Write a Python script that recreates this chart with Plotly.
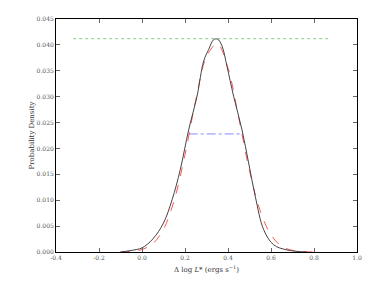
import plotly.graph_objects as go

# Measured distribution (black solid)
obs_x = [-0.10, -0.05, 0.0, 0.05, 0.10, 0.14, 0.178, 0.217, 0.256, 0.287, 0.31, 0.333,
         0.352, 0.372, 0.395, 0.426, 0.465, 0.496, 0.527, 0.566, 0.612, 0.674, 0.767]
obs_y = [0.0, 0.0003, 0.0008, 0.0025, 0.0056, 0.0101, 0.0159, 0.0236, 0.0301, 0.0369, 0.0391, 0.0410,
         0.0411, 0.0398, 0.0359, 0.0301, 0.0236, 0.0172, 0.0107, 0.0043, 0.0014, 0.0004, 0.0]

# Gaussian fit (red dashed)
fit_x = [-0.10, -0.05, 0.0, 0.05, 0.10, 0.15, 0.20, 0.25, 0.30, 0.35, 0.40, 0.45,
         0.50, 0.55, 0.60, 0.65, 0.70, 0.75, 0.80]
fit_y = [0.000025, 0.00012, 0.00048, 0.0016, 0.0044, 0.0100, 0.0188, 0.0293, 0.0377, 0.0402, 0.0355, 0.0259,
         0.0157, 0.0079, 0.0033, 0.0011, 0.00032, 0.000074, 0.000015]

# Peak level (green dotted)
peak_x = [-0.32, 0.87]
peak_y = [0.0412, 0.0412]

# Half-width marker (blue dash-dot)
half_x = [0.217, 0.457]
half_y = [0.0228, 0.0228]

x_ticks = [-0.4, -0.2, 0.0, 0.2, 0.4, 0.6, 0.8, 1.0]
y_ticks = [0.000, 0.005, 0.010, 0.015, 0.020, 0.025, 0.030, 0.035, 0.040, 0.045]

fig = go.Figure()
fig.add_trace(go.Scatter(x=peak_x, y=peak_y, mode="lines",
                         line=dict(color="#88cc88", width=1, dash="dot")))
fig.add_trace(go.Scatter(x=half_x, y=half_y, mode="lines",
                         line=dict(color="#8888ff", width=1, dash="dashdot")))
fig.add_trace(go.Scatter(x=fit_x, y=fit_y, mode="lines", line_shape="spline",
                         line=dict(color="#ff5555", width=1, dash="dash")))
fig.add_trace(go.Scatter(x=obs_x, y=obs_y, mode="lines", line_shape="spline",
                         line=dict(color="#444444", width=1)))

axis_common = dict(showgrid=False, zeroline=False, showline=True, linecolor="black", linewidth=1,
                   mirror="allticks", ticks="inside", ticklen=4, tickcolor="#666666",
                   automargin=False,
                   tickfont=dict(family="DejaVu Serif", size=6, color="#555555"))

title_font = dict(family="DejaVu Serif", size=7, color="#333333")

fig.update_layout(
    width=388, height=291,
    margin=dict(l=56, r=31, t=19, b=39),
    paper_bgcolor="white", plot_bgcolor="white",
    showlegend=False,
    xaxis=dict(range=[-0.4, 1.0], tickvals=x_ticks, ticktext=[f"{v:.1f}" for v in x_ticks],
               **axis_common),
    yaxis=dict(range=[0, 0.045], tickvals=y_ticks, ticktext=[f"{v:.3f}" for v in y_ticks],
               **axis_common),
    annotations=[
        dict(text="Probability Density", xref="paper", yref="paper",
             x=-0.083, y=0.5, xanchor="center", yanchor="middle", textangle=-90,
             showarrow=False, font=title_font),
        dict(text="Δ log <i>L</i>* (ergs s<sup>−1</sup>)", xref="paper", yref="paper",
             x=0.5, y=-0.073, xanchor="center", yanchor="middle",
             showarrow=False, font=title_font),
    ],
)

fig.write_html("out.html", config={"displayModeBar": False},
               post_script="document.body.style.margin='0px';document.body.style.overflow='hidden';")
